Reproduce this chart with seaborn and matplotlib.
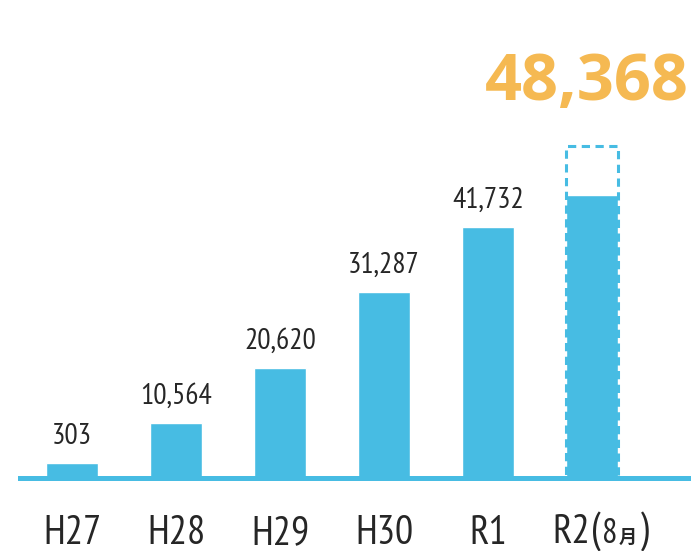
import matplotlib
matplotlib.use("Agg")
import matplotlib.pyplot as plt
from matplotlib import font_manager
from matplotlib.font_manager import FontProperties
from matplotlib.offsetbox import TextArea, HPacker, AnnotationBbox
import seaborn as sns
import pandas as pd

# ---- data ----
categories = ["H27", "H28", "H29", "H30", "R1", "R2"]
value_labels = ["303", "10,564", "20,620", "31,287", "41,732", None]
# bar heights as drawn in the reference (estimated in value units)
drawn_heights = [2416, 9130, 18240, 30900, 41732, 47060]
projected_height = 55230       # dashed outline on R2
headline_value = "48,368"
r2_parts = ["R2", "(", "8", "月", ")"]

BLUE = "#47BCE3"
ORANGE = "#F5B952"
DARK = "#262626"


def find_face(names, weight=400):
    for nm in names:
        for f in font_manager.fontManager.ttflist:
            if f.name == nm and f.style == "normal" and f.weight == weight:
                return f.fname
    return None


narrow_path = find_face(["PT Sans Narrow", "Roboto Condensed", "Fira Sans Condensed",
                         "Open Sans Condensed", "Liberation Sans Narrow"])
if narrow_path is None:
    narrow_path = font_manager.findfont(FontProperties(family="Liberation Sans"))
bold_path = find_face(["Open Sans", "Noto Sans", "Roboto"], 700)
if bold_path is None:
    bold_path = font_manager.findfont(FontProperties(family="DejaVu Sans", weight="bold"))

sns.set_theme(style="white")
plt.rcParams["font.family"] = ["Noto Sans CJK JP", "DejaVu Sans"]

fig = plt.figure(figsize=(6.91, 5.51), dpi=100)
renderer = fig.canvas.get_renderer()


def fit_size(text, path, target_px, base=20.0):
    t = fig.text(0, 0, text, fontproperties=FontProperties(fname=path, size=base))
    w = t.get_window_extent(renderer).width
    t.remove()
    return base * target_px / w


val_size = fit_size("41,732", narrow_path, 72)
tick_size = fit_size("H27", narrow_path, 58)
head_size = fit_size(headline_value, bold_path, 204)

ax = fig.add_axes([20 / 691, 73.5 / 551, 671 / 691, 477.5 / 551])

df = pd.DataFrame({"cat": categories, "h": drawn_heights})
sns.barplot(data=df, x="cat", y="h", color=BLUE, saturation=1, width=0.5, ax=ax)

# dashed projection box on R2
ax.bar(5, projected_height, width=0.5, fill=False, edgecolor=BLUE,
       linewidth=2.2, linestyle=(0, (2.7, 1.8)), zorder=1)

ax.set_xlim(-0.5, 5.95)
ax.set_ylim(0, 477.5 * 166.6)
ax.set_xlabel("")
ax.set_ylabel("")
ax.set_yticks([])
for s in ["top", "left", "right"]:
    ax.spines[s].set_visible(False)
ax.spines["bottom"].set_color(BLUE)
ax.spines["bottom"].set_linewidth(3.6)
ax.spines["bottom"].set_zorder(3)

ax.set_xticks(range(len(categories)))
ax.set_xticklabels(categories[:-1] + [""], color=DARK,
                   fontproperties=FontProperties(fname=narrow_path, size=tick_size))
ax.tick_params(axis="x", length=0, pad=27)

for i, (h, lab) in enumerate(zip(drawn_heights, value_labels)):
    if lab is None:
        continue
    ax.annotate(lab, (i, h), xytext=(0, 13.7), textcoords="offset points",
                ha="center", va="baseline", color=DARK,
                fontproperties=FontProperties(fname=narrow_path, size=val_size))

ax.annotate(headline_value, (5, projected_height), xytext=(-4, 33),
            textcoords="offset points", ha="center", va="baseline",
            color=ORANGE, annotation_clip=False,
            fontproperties=FontProperties(fname=bold_path, size=head_size))

# R2 (8月) composite tick label
props = [
    FontProperties(fname=narrow_path, size=tick_size),
    FontProperties(fname=narrow_path, size=tick_size * 1.05),
    FontProperties(fname=narrow_path, size=tick_size * 0.85),
    FontProperties(family="Noto Sans CJK JP", weight="bold", size=tick_size * 0.45),
    FontProperties(fname=narrow_path, size=tick_size * 1.05),
]
areas = [TextArea(t, textprops=dict(color=DARK, fontproperties=p))
         for t, p in zip(r2_parts, props)]
box = HPacker(children=areas, align="baseline", pad=0, sep=1)
ab = AnnotationBbox(box, (5, 0), xycoords=("data", "axes fraction"),
                    xybox=(5.8, -39.5), boxcoords="offset points",
                    box_alignment=(0.5, 0.5), frameon=False, pad=0,
                    annotation_clip=False)
ax.add_artist(ab)

fig.savefig("out.png", dpi=100)
